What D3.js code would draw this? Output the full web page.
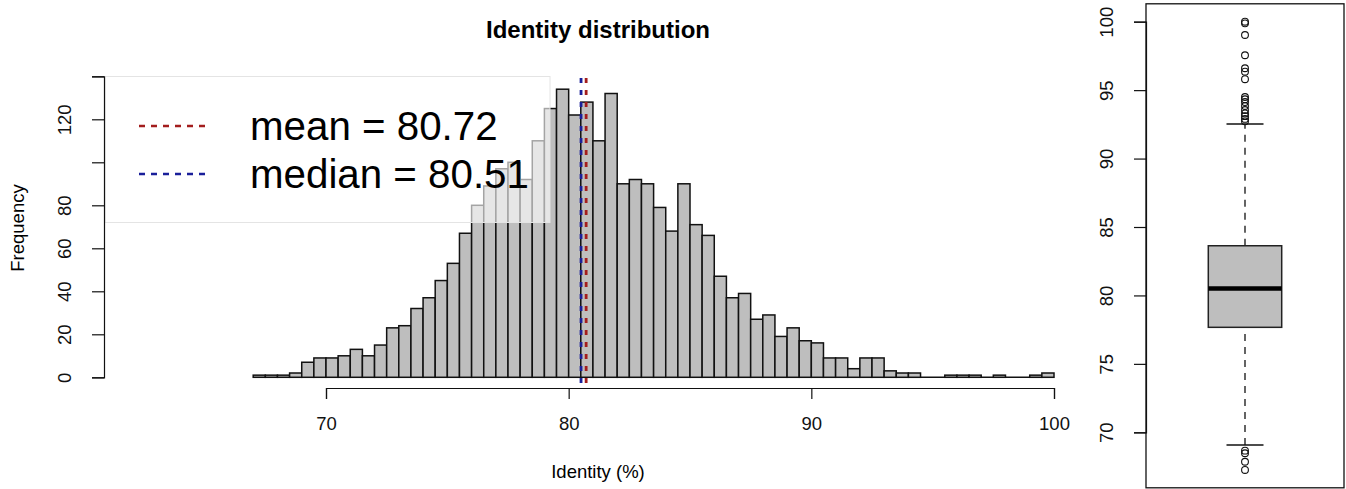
<!DOCTYPE html>
<html>
<head>
<meta charset="utf-8">
<script src="https://cdn.jsdelivr.net/npm/d3@7"></script>
<style>
  html, body { margin: 0; padding: 0; background: #fff; }
  svg { display: block; font-family: "Liberation Sans", Arial, Helvetica, sans-serif; }
</style>
</head>
<body>
<script>
// histogram data: 0.5-wide bins starting at 67
const binStart = 67;
const binWidth = 0.5;
const counts = [1, 1, 1, 2, 7, 9, 9, 10, 13, 10, 15, 23, 24, 32, 37, 45, 53, 67,
    80, 89, 97, 100, 92, 110, 125, 134, 122, 128, 110, 132, 90, 92, 90, 79, 68, 90,
    71, 66, 47, 37, 39, 27, 29, 19, 23, 17, 16, 9, 9, 4, 9, 9, 3, 2, 2, 0, 0, 1, 1,
    1, 0, 1, 0, 0, 1, 2];
const xTicks = [70, 80, 90, 100];
const yTicks = [0, 20, 40, 60, 80, 100, 120, 140];
const yLabels = [0, 20, 40, 60, 80, 120];
const meanValue = 80.72;
const medianValue = 80.51;

// boxplot data
const whiskerLow = 69.07, q1 = 77.67, median = 80.51, q3 = 83.63, whiskerHigh = 92.52;
const outliers = [100.0, 99.88, 99.03, 97.55, 96.6, 96.35, 95.8, 94.5, 94.33, 94.13,
    93.84, 93.55, 93.3, 93.1, 92.9, 92.72, 68.66, 68.47, 67.85, 67.25];
const boxTicks = [70, 75, 80, 85, 90, 95, 100];

const svg = d3.select("body")
    .append("svg")
    .attr("width", 1346)
    .attr("height", 489);

const x = d3.scaleLinear().domain([70, 100]).range([326, 1054]);
const y = d3.scaleLinear().domain([0, 140]).range([377.3, 76.3]);

// title
svg.append("text")
    .attr("x", 598)
    .attr("y", 38)
    .attr("text-anchor", "middle")
    .attr("font-size", 24)
    .attr("font-weight", "bold")
    .text("Identity distribution");

// baseline under the bars (empty bins show as a flat line)
const binEnd = binStart + counts.length * binWidth;
svg.append("line")
    .attr("x1", x(binStart)).attr("x2", x(binEnd))
    .attr("y1", y(0)).attr("y2", y(0))
    .attr("stroke", "#111")
    .attr("stroke-width", 1.5);

// bars
svg.append("g")
    .selectAll("rect")
    .data(counts)
    .join("rect")
    .attr("x", (d, i) => x(binStart + i * binWidth))
    .attr("y", d => y(d))
    .attr("width", x(binStart + binWidth) - x(binStart))
    .attr("height", d => y(0) - y(d))
    .attr("fill", "#bebebe")
    .attr("stroke", "#111")
    .attr("stroke-width", 1.5);

// mean / median lines
svg.append("line")
    .attr("x1", x(medianValue)).attr("x2", x(medianValue))
    .attr("y1", 78).attr("y2", 390)
    .attr("stroke", "#1a1f9a")
    .attr("stroke-width", 2.8)
    .attr("stroke-dasharray", "5,7");

svg.append("line")
    .attr("x1", x(meanValue)).attr("x2", x(meanValue))
    .attr("y1", 78).attr("y2", 390)
    .attr("stroke", "#a31d1d")
    .attr("stroke-width", 2.8)
    .attr("stroke-dasharray", "5,7");

// legend (semi transparent white box)
svg.append("rect")
    .attr("x", 105)
    .attr("y", 76.5)
    .attr("width", 445)
    .attr("height", 146)
    .attr("fill", "#fff")
    .attr("fill-opacity", 0.62)
    .attr("stroke", "#e4e4e4")
    .attr("stroke-width", 1);

const legendItems = [
    { label: "mean = " + meanValue.toFixed(2), color: "#a31d1d", yy: 126 },
    { label: "median = " + medianValue.toFixed(2), color: "#1a1f9a", yy: 174 }
];

legendItems.forEach(function (it) {
    svg.append("line")
        .attr("x1", 139).attr("x2", 207)
        .attr("y1", it.yy).attr("y2", it.yy)
        .attr("stroke", it.color)
        .attr("stroke-width", 2.5)
        .attr("stroke-dasharray", "6,6");
    svg.append("text")
        .attr("x", 250)
        .attr("y", it.yy + 14)
        .attr("font-size", 40.3)
        .text(it.label);
});

// x axis
const xAxis = svg.append("g")
    .attr("transform", "translate(0,388)")
    .call(d3.axisBottom(x).tickValues(xTicks).tickSizeOuter(0).tickSize(11).tickPadding(18));
xAxis.selectAll("path, line").attr("stroke", "#111").attr("stroke-width", 1.2);
xAxis.selectAll("text").attr("font-size", 18.5).attr("fill", "#111")
    .attr("font-family", "Liberation Sans, Arial, sans-serif");

svg.append("text")
    .attr("x", 598)
    .attr("y", 478)
    .attr("text-anchor", "middle")
    .attr("font-size", 18.5)
    .text("Identity (%)");

// y axis
const yAxis = svg.append("g")
    .attr("transform", "translate(104,0)")
    .call(d3.axisLeft(y).tickValues(yTicks).tickSizeOuter(0).tickSize(12)
        .tickFormat(d => yLabels.includes(d) ? d : ""));
yAxis.selectAll("path, line").attr("stroke", "#111").attr("stroke-width", 1.2);
yAxis.selectAll("text")
    .attr("font-size", 18.5)
    .attr("fill", "#111")
    .attr("font-family", "Liberation Sans, Arial, sans-serif")
    .attr("text-anchor", "middle")
    .attr("x", 0)
    .attr("dy", 0)
    .attr("transform", "translate(-39,0) rotate(-90)")
    .attr("y", 6);

svg.append("text")
    .attr("transform", "translate(24,228) rotate(-90)")
    .attr("text-anchor", "middle")
    .attr("font-size", 18.5)
    .text("Frequency");

// boxplot panel
const yb = d3.scaleLinear().domain([70, 100]).range([432.3, 21.7]);
const bx = 1245;

svg.append("rect")
    .attr("x", 1146)
    .attr("y", 3.8)
    .attr("width", 198)
    .attr("height", 484)
    .attr("fill", "none")
    .attr("stroke", "#111")
    .attr("stroke-width", 1.3);

const bAxis = svg.append("g")
    .attr("transform", "translate(1146,0)")
    .call(d3.axisLeft(yb).tickValues(boxTicks).tickSizeOuter(0).tickSize(12));
bAxis.selectAll("path, line").attr("stroke", "#111").attr("stroke-width", 1.2);
bAxis.selectAll("text")
    .attr("font-size", 18.5)
    .attr("fill", "#111")
    .attr("font-family", "Liberation Sans, Arial, sans-serif")
    .attr("text-anchor", "middle")
    .attr("x", 0)
    .attr("dy", 0)
    .attr("transform", "translate(-39,0) rotate(-90)")
    .attr("y", 6);

// whiskers
[[whiskerLow, q1], [q3, whiskerHigh]].forEach(function (w) {
    svg.append("line")
        .attr("x1", bx).attr("x2", bx)
        .attr("y1", yb(w[0])).attr("y2", yb(w[1]))
        .attr("stroke", "#111")
        .attr("stroke-width", 1.3)
        .attr("stroke-dasharray", "7,6");
});
[whiskerLow, whiskerHigh].forEach(function (v) {
    svg.append("line")
        .attr("x1", bx - 18.5).attr("x2", bx + 18.5)
        .attr("y1", yb(v)).attr("y2", yb(v))
        .attr("stroke", "#111")
        .attr("stroke-width", 1.5);
});

svg.append("rect")
    .attr("x", bx - 36.7)
    .attr("y", yb(q3))
    .attr("width", 73.4)
    .attr("height", yb(q1) - yb(q3))
    .attr("fill", "#bebebe")
    .attr("stroke", "#222")
    .attr("stroke-width", 1.5);

svg.append("line")
    .attr("x1", bx - 36.7).attr("x2", bx + 36.7)
    .attr("y1", yb(median)).attr("y2", yb(median))
    .attr("stroke", "#000")
    .attr("stroke-width", 4.5);

svg.append("g")
    .selectAll("circle")
    .data(outliers)
    .join("circle")
    .attr("cx", bx)
    .attr("cy", d => yb(d))
    .attr("r", 3.4)
    .attr("fill", "none")
    .attr("stroke", "#111")
    .attr("stroke-width", 1.1);
</script>
</body>
</html>
